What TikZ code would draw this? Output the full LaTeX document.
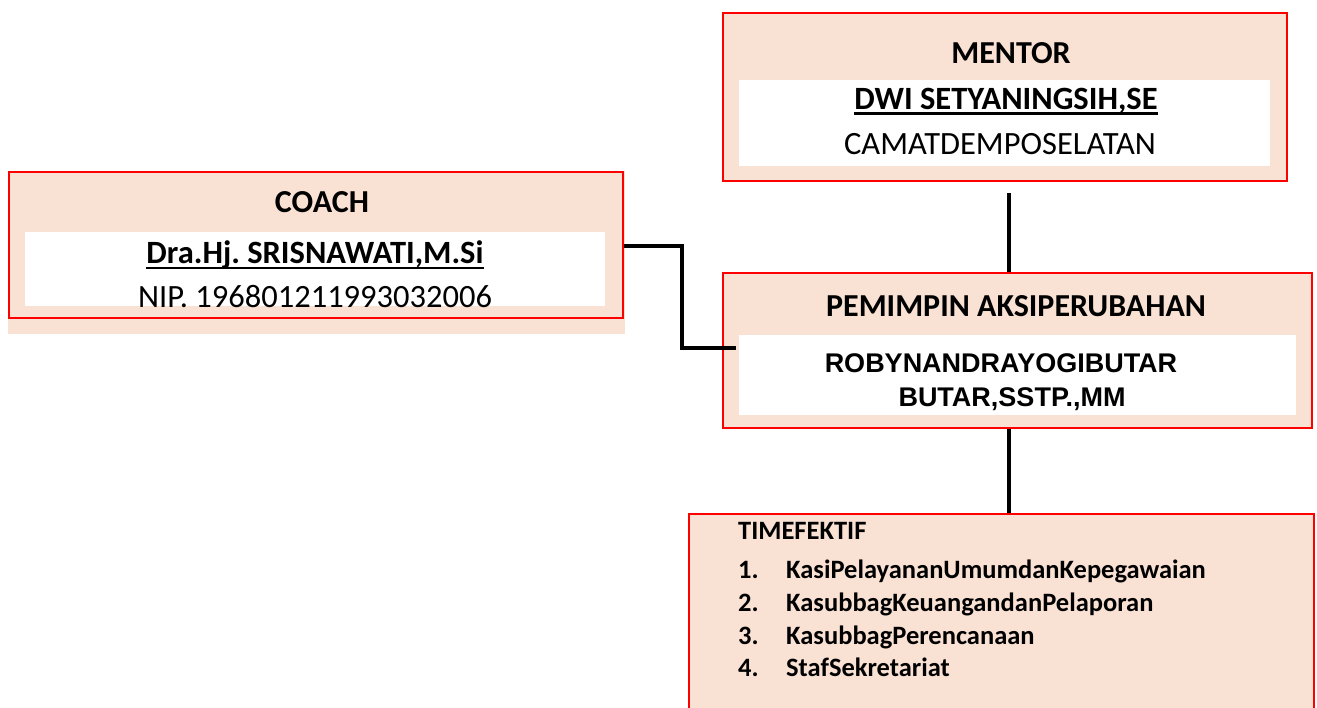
\documentclass[tikz,border=0pt]{standalone}
\usepackage{fontspec}
\setmainfont{Carlito}
\newfontfamily\arialf{Liberation Sans}
\definecolor{peach}{HTML}{F9E1D4}
\definecolor{bred}{HTML}{FF0000}
\frenchspacing
\begin{document}
\begin{tikzpicture}[x=1pt,y=-1pt,
  box/.style={draw=bred,line width=2.2pt,fill=peach,anchor=north west,inner sep=0pt},
  conn/.style={line width=3.6pt,black},
  ulin/.style={line width=2.2pt,black},
  ttl/.style={font=\fontsize{32}{36}\selectfont\bfseries,inner sep=0pt},
  nm/.style={font=\fontsize{32.5}{36}\selectfont\bfseries,inner sep=0pt},
  sub/.style={font=\fontsize{32.5}{36}\selectfont,inner sep=0pt},
  rob/.style={font=\arialf\fontsize{27}{30}\selectfont\bfseries,inner sep=0pt},
  item/.style={font=\fontsize{26.5}{30}\selectfont\bfseries,inner sep=0pt,anchor=base west}]
\useasboundingbox (0,0) rectangle (1317,708);
\clip (0,0) rectangle (1317,708);
% coach
\fill[peach] (8,171) rectangle (625,334);
\node[box,minimum width=614pt,minimum height=146pt] (coach) at (8,171) {};
\fill[white] (25,232) rectangle (605,306);
\node[ttl] (coacht) at (322,202) {COACH};
\node[nm] (coachn) at (315,255) {Dra.Hj. SRISNAWATI,M.Si};
\draw[ulin] ([yshift=-4pt]coachn.base west) -- ([yshift=-4pt]coachn.base east);
\node[sub] (coachp) at (315,297) {NIP. 196801211993032006};
% mentor
\node[box,minimum width=564pt,minimum height=168pt] (mentor) at (722,12) {};
\fill[white] (739,80) rectangle (1270,166);
\node[ttl] (mentort) at (1011,53) {MENTOR};
\node[nm] (mentorn) at (1006,101) {DWI SETYANINGSIH,SE};
\draw[ulin] ([yshift=-4pt]mentorn.base west) -- ([yshift=-4pt]mentorn.base east);
\node[sub] (mentorp) at (1000,144) {CAMATDEMPOSELATAN};
% pemimpin
\node[box,minimum width=589pt,minimum height=155pt] (pem) at (722,272) {};
\fill[white] (739,335) rectangle (1296,415);
\node[ttl] (pemt) at (1016,306) {PEMIMPIN AKSIPERUBAHAN};
\node[rob] (pemn1) at (1001,363) {ROBYNANDRAYOGIBUTAR};
\node[rob] (pemn2) at (1012,399) {BUTAR,SSTP.,MM};
% tim
\node[box,minimum width=625pt,minimum height=220pt] (tim) at (688,513) {};
\node[item] (timt) at (738,539) {TIMEFEKTIF};
\node[item] (n1) at (738,578) {1.};
\node[item] (i1) at (786,578) {KasiPelayananUmumdanKepegawaian};
\node[item] (n2) at (738,611) {2.};
\node[item] (i2) at (786,611) {KasubbagKeuangandanPelaporan};
\node[item] (n3) at (738,644) {3.};
\node[item] (i3) at (786,644) {KasubbagPerencanaan};
\node[item] (n4) at (738,676) {4.};
\node[item] (i4) at (786,676) {StafSekretariat};
% connectors
\coordinate (m1) at (1009,193);
\draw[conn] (m1) -- (m1 |- pem.north);
\draw[conn] (pem.south -| m1) -- (m1 |- tim.north);
\coordinate (c1) at (624,246);
\coordinate (c2) at (736,348);
\draw[conn] (c1) -- (682,246) |- (c2);
\end{tikzpicture}
\end{document}
